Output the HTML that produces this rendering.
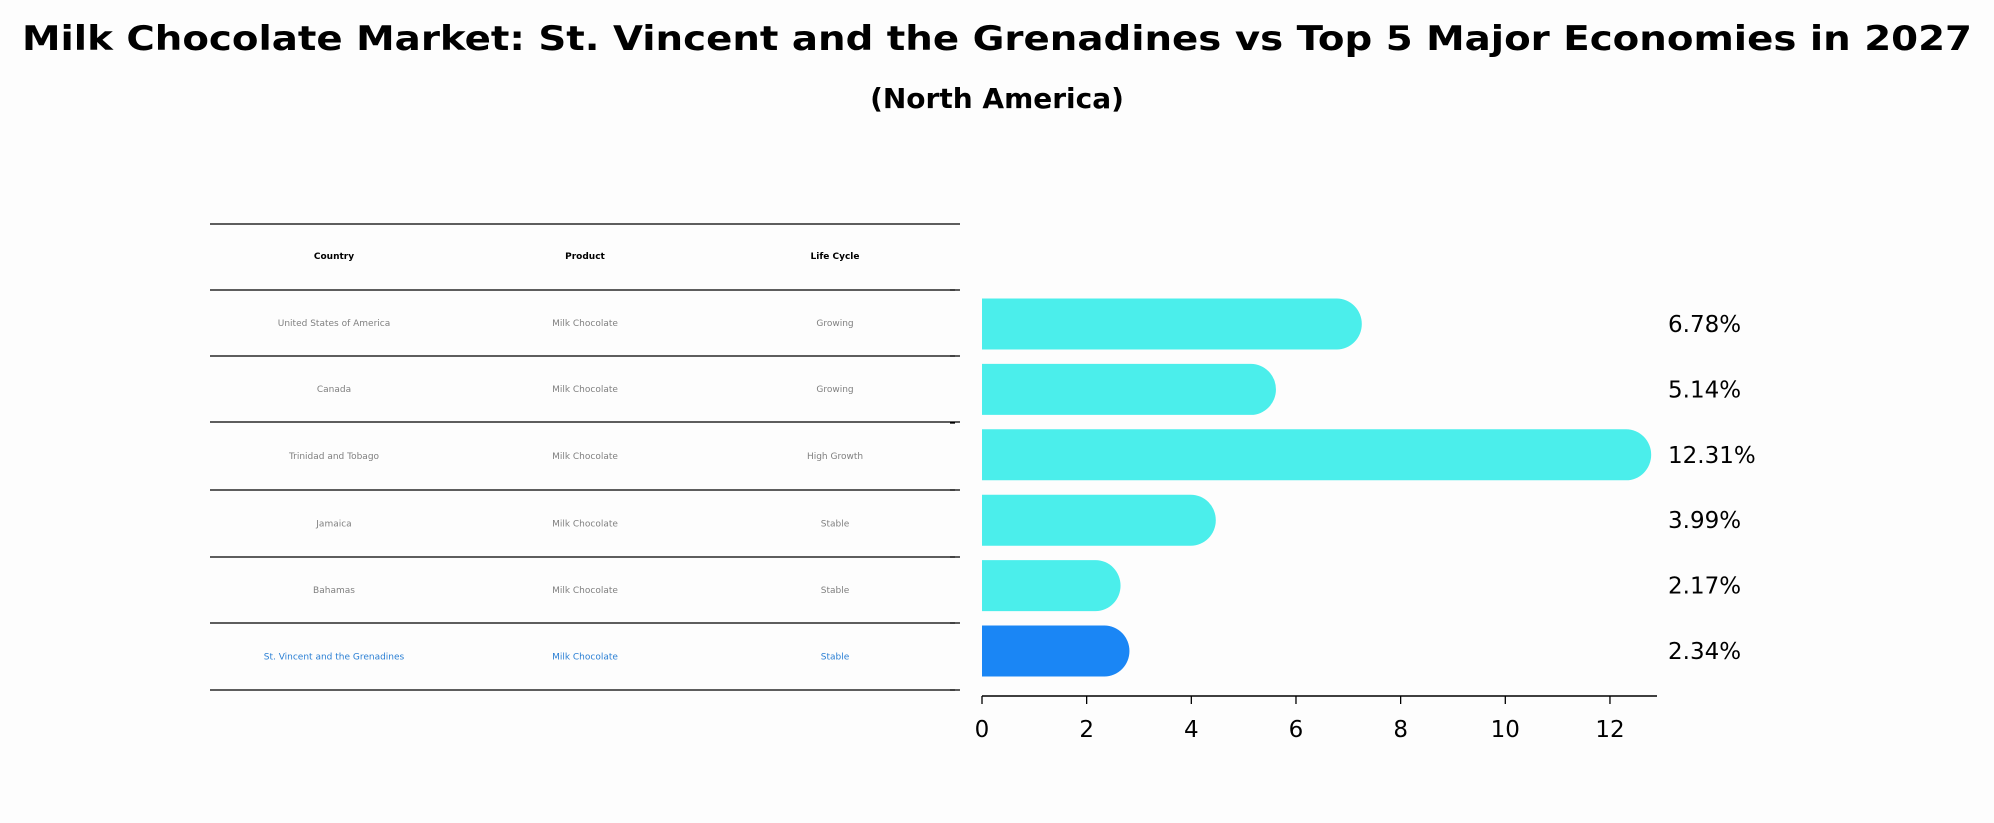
<!DOCTYPE html>
<html><head><meta charset="utf-8"><style>
body{margin:0;background:#fdfdfd;}
svg{display:block;font-family:"DejaVu Sans","Liberation Sans",sans-serif;}
</style></head><body>
<svg id="chart" width="1994" height="823" viewBox="0 0 1994 823" xmlns="http://www.w3.org/2000/svg">
<rect width="1994" height="823" fill="#fdfdfd"/>
<text x="997" y="50" text-anchor="middle" font-size="34" font-weight="bold" textLength="1950" lengthAdjust="spacingAndGlyphs">Milk Chocolate Market: St. Vincent and the Grenadines vs Top 5 Major Economies in 2027</text>
<text x="997" y="108" text-anchor="middle" font-size="28" font-weight="bold">(North America)</text>
<g id="table"></g>
<g id="bars"></g>
</svg>
<script>
const countries=["United States of America","Canada","Trinidad and Tobago","Jamaica","Bahamas","St. Vincent and the Grenadines"];
const products=["Milk Chocolate","Milk Chocolate","Milk Chocolate","Milk Chocolate","Milk Chocolate","Milk Chocolate"];
const lifeCycles=["Growing","Growing","High Growth","Stable","Stable","Stable"];
const values=[6.78,5.14,12.31,3.99,2.17,2.34];
const valueLabels=["6.78%","5.14%","12.31%","3.99%","2.17%","2.34%"];
const xTicks=[0,2,4,6,8,10,12];

const NS="http://www.w3.org/2000/svg";
function mk(tag,attrs,parent){const e=document.createElementNS(NS,tag);for(const k in attrs)e.setAttribute(k,attrs[k]);parent.appendChild(e);return e;}
const tbl=document.getElementById('table');
const lineYs=[224,290,356,422,490,557,623,690];
const colX=[334,585,835];
lineYs.forEach((y,i)=>{const l=mk('line',{x1:210,x2:960,y1:y,y2:y,stroke:'#000','stroke-width':1.3},tbl);

});
["Country","Product","Life Cycle"].forEach((h,j)=>{const t=mk('text',{x:colX[j],y:259,'text-anchor':'middle','font-size':9,'font-weight':'bold'},tbl);t.textContent=h;

});
countries.forEach((c,i)=>{const y=(lineYs[i+1]+lineYs[i+2])/2+3;const last=i===countries.length-1;const col=last?'#2a7fd4':'#808080';
[c,products[i],lifeCycles[i]].forEach((v,j)=>{const t=mk('text',{x:colX[j],y:y,'text-anchor':'middle','font-size':9,fill:col},tbl);t.textContent=v;

});});

const bars=document.getElementById('bars');
const x0=982, unit=52.33;
function xs(v){return x0+v*unit;}
const rowY0=324, pitch=65.4, bh=51, r=25;
values.forEach((v,i)=>{const cy=rowY0+i*pitch;const last=i===values.length-1;
const xe=xs(v);const w=Math.max(xe-x0,0);
const p=mk('path',{d:`M${x0},${cy-bh/2} H${xe} A${r},${bh/2} 0 0 1 ${xe},${cy+bh/2} H${x0} Z`,fill:last?'#1a86f5':'#4beeeb'},bars);


const t=mk('text',{x:1668,y:cy+8,'font-size':23},bars);t.textContent=valueLabels[i];

});
[290,356,423,490,557,623,690].forEach(y=>{const l=mk('line',{x1:950,x2:955,y1:y,y2:y,stroke:'#000','stroke-width':1.3},bars);

});
const ax=mk('line',{x1:x0,x2:1657,y1:696,y2:696,stroke:'#000','stroke-width':1.5},bars);


xTicks.forEach(v=>{const l=mk('line',{x1:xs(v),x2:xs(v),y1:696,y2:704,stroke:'#000','stroke-width':1.3},bars);


const t=mk('text',{x:xs(v),y:737,'text-anchor':'middle','font-size':23},bars);t.textContent=v;

});
</script>
</body></html>
